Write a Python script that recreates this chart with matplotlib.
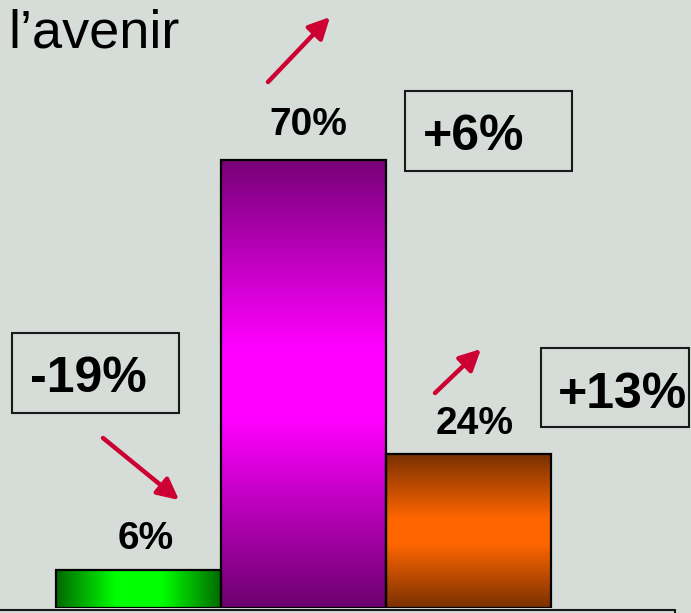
import numpy as np
import matplotlib
matplotlib.use("Agg")
import matplotlib.pyplot as plt
from matplotlib.colors import LinearSegmentedColormap
from matplotlib.patches import Rectangle

plt.rcParams["font.family"] = ["Liberation Sans", "DejaVu Sans"]

# ---- data ----
categories = ["baisse", "stable", "hausse"]
values = [6, 70, 24]
value_labels = ["6%", "70%", "24%"]
changes = ["-19%", "+6%", "+13%"]

BG = "#d6dcd8"
RED = "#cc0033"

# gradient stops per bar: (stops, horizontal?)
GRADIENTS = [
    ([(0.0, "#006800"), (0.36, "#00ff00"), (0.64, "#00ff00"), (1.0, "#006800")], True),
    ([(0.0, "#780078"), (0.42, "#ff00ff"), (0.58, "#ff00ff"), (1.0, "#6c006e")], False),
    ([(0.0, "#7a3000"), (0.42, "#ff6600"), (0.58, "#ff6600"), (1.0, "#7a3000")], False),
]

W, H = 691, 613
fig = plt.figure(figsize=(W / 100, H / 100), dpi=100)
fig.patch.set_facecolor(BG)

# bar axes: baseline at pixel row 608, 6.4 px per percent
base_px = 608
px_per_pct = 6.4
ax = fig.add_axes([0, (H - base_px) / H, 1, base_px / H])
ax.set_facecolor("none")
ax.axis("off")

x = np.arange(len(values))
bars = ax.bar(x, values, width=1.0, facecolor="none", edgecolor="black",
              linewidth=1.6, zorder=3)

for bar, (stops, horizontal) in zip(bars, GRADIENTS):
    cmap = LinearSegmentedColormap.from_list("g", stops)
    g = np.linspace(0, 1, 256)
    img = g.reshape(1, -1) if horizontal else g[::-1].reshape(-1, 1)
    x0, w, h = bar.get_x(), bar.get_width(), bar.get_height()
    im = ax.imshow(img, cmap=cmap, extent=[x0, x0 + w, 0, h], origin="lower",
                   aspect="auto", zorder=2, interpolation="bicubic")
    im.set_clip_path(bar)

ax.set_xlim(-0.839, 3.348)
ax.set_ylim(0, base_px / px_per_pct)

# value labels above bars (pixel offsets from bar top)
label_offsets = [(7, 21), (5, 25), (6, 20)]
for xi, v, lab, off in zip(x, values, value_labels, label_offsets):
    ax.annotate(lab, (xi, v), xytext=off, textcoords="offset pixels",
                ha="center", va="baseline", fontsize=28, fontweight="bold",
                color="black", zorder=4)

# overlay in pixel coordinates for title, boxes and arrows
ov = fig.add_axes([0, 0, 1, 1])
ov.set_xlim(0, W)
ov.set_ylim(H, 0)
ov.axis("off")
ov.set_facecolor("none")

ov.text(8, 48, "l\u2019avenir", fontsize=39, ha="left", va="baseline")

# change boxes: (x0, y0, x1, y1) and text position
boxes = [(12, 333, 179, 413), (405, 91, 572, 171), (541, 348, 689, 427)]
box_text_pos = [(88, 392), (474, 150), (623, 408)]
for (bx0, by0, bx1, by1), (tx, ty), txt in zip(boxes, box_text_pos, changes):
    ov.add_patch(Rectangle((bx0, by0), bx1 - bx0, by1 - by0, facecolor="none",
                           edgecolor="#1a1a1a", linewidth=1.5))
    ov.text(tx, ty, txt, fontsize=36, fontweight="bold", ha="center", va="baseline")

# trend arrows
arrows = [((103, 438), (179, 500)), ((268, 82), (330, 17)), ((435, 393), (481, 349))]
for start, tip in arrows:
    ov.annotate("", xy=tip, xytext=start,
                arrowprops=dict(arrowstyle="-|>", color=RED, lw=3.2,
                                mutation_scale=32, shrinkA=0, shrinkB=0))

# box cut off at the bottom edge
ov.add_patch(Rectangle((-5, 609.5), 680, 20, facecolor="none",
                       edgecolor="#1a1a1a", linewidth=1.5))

fig.savefig("out.png", dpi=100, facecolor=BG)
